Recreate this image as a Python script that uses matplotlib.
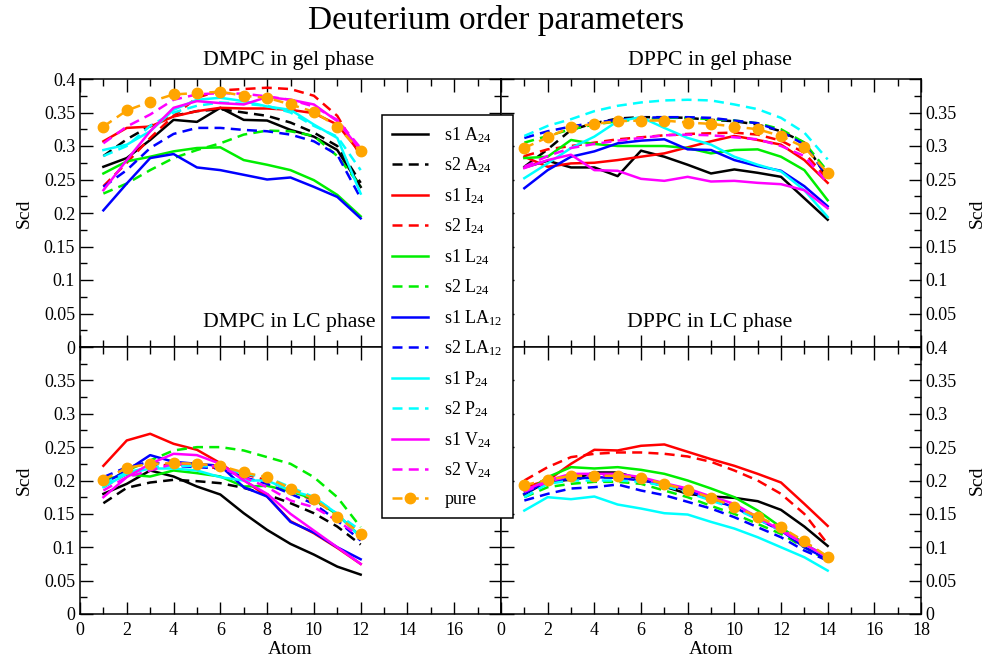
import numpy as np
import matplotlib
matplotlib.use('Agg')
import matplotlib.pyplot as plt
from matplotlib.ticker import MultipleLocator

plt.rcParams['font.family'] = 'Liberation Serif'
plt.rcParams['mathtext.default'] = 'regular'

# series labels / styles
labels = [r's1 A$_{24}$', r's2 A$_{24}$', r's1 I$_{24}$', r's2 I$_{24}$',
          r's1 L$_{24}$', r's2 L$_{24}$', r's1 LA$_{12}$', r's2 LA$_{12}$',
          r's1 P$_{24}$', r's2 P$_{24}$', r's1 V$_{24}$', r's2 V$_{24}$', 'pure']
colors = ['black', 'black', 'red', 'red', '#00ee00', '#00ee00', 'blue', 'blue',
          'cyan', 'cyan', 'magenta', 'magenta', '#ffa500']

atoms_dmpc = np.arange(1, 13)
atoms_dppc = np.arange(1, 15)

# ---- DMPC gel
dmpc_gel_s1_A = [0.269, 0.282, 0.309, 0.339, 0.336, 0.357, 0.339, 0.338, 0.324, 0.314, 0.294, 0.239]
dmpc_gel_s2_A = [0.285, 0.310, 0.330, 0.345, 0.352, 0.355, 0.350, 0.345, 0.335, 0.320, 0.300, 0.245]
dmpc_gel_s1_I = [0.307, 0.327, 0.329, 0.344, 0.352, 0.357, 0.356, 0.356, 0.354, 0.349, 0.332, 0.289]
dmpc_gel_s2_I = [0.240, 0.275, 0.312, 0.345, 0.372, 0.383, 0.385, 0.387, 0.385, 0.375, 0.345, 0.285]
dmpc_gel_s1_L = [0.259, 0.277, 0.284, 0.292, 0.297, 0.298, 0.279, 0.272, 0.264, 0.249, 0.227, 0.195]
dmpc_gel_s2_L = [0.229, 0.244, 0.264, 0.282, 0.294, 0.304, 0.317, 0.323, 0.322, 0.315, 0.285, 0.240]
dmpc_gel_s1_LA = [0.204, 0.244, 0.282, 0.288, 0.268, 0.264, 0.257, 0.250, 0.253, 0.239, 0.224, 0.192]
dmpc_gel_s2_LA = [0.239, 0.264, 0.297, 0.318, 0.327, 0.327, 0.324, 0.322, 0.317, 0.307, 0.287, 0.222]
dmpc_gel_s1_P = [0.294, 0.302, 0.322, 0.354, 0.369, 0.372, 0.367, 0.359, 0.354, 0.332, 0.312, 0.229]
dmpc_gel_s2_P = [0.285, 0.300, 0.330, 0.350, 0.360, 0.365, 0.363, 0.360, 0.350, 0.330, 0.314, 0.264]
dmpc_gel_s1_V = [0.234, 0.279, 0.322, 0.357, 0.367, 0.364, 0.362, 0.373, 0.369, 0.362, 0.337, 0.294]
dmpc_gel_s2_V = [0.304, 0.329, 0.347, 0.369, 0.377, 0.379, 0.378, 0.374, 0.369, 0.359, 0.339, 0.297]
dmpc_gel_pure = [0.329, 0.353, 0.366, 0.377, 0.379, 0.381, 0.375, 0.372, 0.362, 0.351, 0.329, 0.292]

# ---- DPPC gel
dppc_gel_s1_A = [0.268, 0.278, 0.268, 0.268, 0.255, 0.293, 0.284, 0.272, 0.259, 0.265, 0.260, 0.254, 0.222, 0.190]
dppc_gel_s2_A = [0.269, 0.295, 0.324, 0.334, 0.341, 0.343, 0.343, 0.342, 0.339, 0.337, 0.332, 0.322, 0.305, 0.252]
dppc_gel_s1_I = [0.284, 0.269, 0.274, 0.275, 0.279, 0.284, 0.289, 0.298, 0.307, 0.315, 0.309, 0.302, 0.279, 0.245]
dppc_gel_s2_I = [0.285, 0.295, 0.300, 0.305, 0.310, 0.313, 0.316, 0.318, 0.319, 0.320, 0.317, 0.308, 0.290, 0.250]
dppc_gel_s1_L = [0.282, 0.284, 0.309, 0.303, 0.300, 0.300, 0.300, 0.297, 0.289, 0.294, 0.295, 0.284, 0.264, 0.219]
dppc_gel_s2_L = [0.305, 0.315, 0.325, 0.332, 0.337, 0.340, 0.342, 0.342, 0.340, 0.338, 0.334, 0.325, 0.305, 0.262]
dppc_gel_s1_LA = [0.237, 0.264, 0.284, 0.292, 0.304, 0.308, 0.310, 0.295, 0.294, 0.279, 0.270, 0.263, 0.240, 0.210]
dppc_gel_s2_LA = [0.312, 0.322, 0.329, 0.335, 0.339, 0.342, 0.343, 0.343, 0.342, 0.338, 0.334, 0.322, 0.302, 0.254]
dppc_gel_s1_P = [0.252, 0.274, 0.297, 0.314, 0.337, 0.343, 0.327, 0.312, 0.302, 0.284, 0.272, 0.262, 0.234, 0.194]
dppc_gel_s2_P = [0.315, 0.330, 0.340, 0.352, 0.360, 0.365, 0.368, 0.369, 0.368, 0.362, 0.355, 0.342, 0.320, 0.280]
dppc_gel_s1_V = [0.267, 0.279, 0.287, 0.264, 0.263, 0.251, 0.248, 0.254, 0.247, 0.248, 0.245, 0.243, 0.234, 0.207]
dppc_gel_s2_V = [0.269, 0.285, 0.297, 0.303, 0.308, 0.312, 0.316, 0.317, 0.316, 0.313, 0.310, 0.300, 0.285, 0.245]
dppc_gel_pure = [0.297, 0.313, 0.328, 0.333, 0.337, 0.338, 0.338, 0.335, 0.333, 0.329, 0.325, 0.315, 0.298, 0.260]

# ---- DMPC LC
dmpc_lc_s1_A = [0.180, 0.195, 0.215, 0.206, 0.191, 0.179, 0.151, 0.126, 0.105, 0.089, 0.071, 0.059]
dmpc_lc_s2_A = [0.166, 0.189, 0.197, 0.201, 0.199, 0.196, 0.189, 0.179, 0.166, 0.151, 0.131, 0.104]
dmpc_lc_s1_I = [0.222, 0.260, 0.270, 0.255, 0.246, 0.226, 0.201, 0.176, 0.139, 0.121, 0.099, 0.075]
dmpc_lc_s2_I = [0.190, 0.210, 0.220, 0.225, 0.222, 0.218, 0.210, 0.200, 0.185, 0.170, 0.150, 0.120]
dmpc_lc_s1_L = [0.201, 0.209, 0.206, 0.215, 0.211, 0.206, 0.191, 0.192, 0.184, 0.172, 0.149, 0.116]
dmpc_lc_s2_L = [0.195, 0.215, 0.230, 0.245, 0.250, 0.250, 0.245, 0.235, 0.225, 0.205, 0.175, 0.130]
dmpc_lc_s1_LA = [0.195, 0.215, 0.238, 0.228, 0.225, 0.222, 0.190, 0.176, 0.138, 0.122, 0.100, 0.082]
dmpc_lc_s2_LA = [0.205, 0.220, 0.228, 0.222, 0.220, 0.218, 0.205, 0.195, 0.180, 0.165, 0.140, 0.110]
dmpc_lc_s1_P = [0.190, 0.210, 0.218, 0.218, 0.215, 0.205, 0.200, 0.200, 0.185, 0.175, 0.150, 0.115]
dmpc_lc_s2_P = [0.195, 0.212, 0.220, 0.222, 0.222, 0.220, 0.210, 0.205, 0.190, 0.175, 0.150, 0.125]
dmpc_lc_s1_V = [0.175, 0.205, 0.225, 0.240, 0.238, 0.225, 0.200, 0.180, 0.150, 0.125, 0.100, 0.075]
dmpc_lc_s2_V = [0.185, 0.205, 0.215, 0.225, 0.225, 0.220, 0.205, 0.190, 0.170, 0.160, 0.140, 0.115]
dmpc_lc_pure = [0.201, 0.219, 0.225, 0.226, 0.225, 0.222, 0.212, 0.205, 0.188, 0.173, 0.146, 0.120]

# ---- DPPC LC
dppc_lc_s1_A = [0.179, 0.199, 0.201, 0.212, 0.212, 0.202, 0.191, 0.180, 0.176, 0.174, 0.169, 0.156, 0.131, 0.102]
dppc_lc_s2_A = [0.185, 0.198, 0.202, 0.205, 0.205, 0.200, 0.192, 0.182, 0.172, 0.160, 0.145, 0.128, 0.108, 0.085]
dppc_lc_s1_I = [0.190, 0.200, 0.225, 0.246, 0.245, 0.252, 0.254, 0.243, 0.232, 0.222, 0.210, 0.197, 0.165, 0.132]
dppc_lc_s2_I = [0.200, 0.220, 0.235, 0.240, 0.242, 0.242, 0.240, 0.236, 0.228, 0.215, 0.200, 0.180, 0.150, 0.105]
dppc_lc_s1_L = [0.180, 0.205, 0.220, 0.218, 0.220, 0.216, 0.210, 0.200, 0.188, 0.175, 0.155, 0.130, 0.105, 0.085]
dppc_lc_s2_L = [0.175, 0.190, 0.195, 0.198, 0.198, 0.195, 0.185, 0.175, 0.162, 0.150, 0.135, 0.120, 0.100, 0.080]
dppc_lc_s1_LA = [0.180, 0.200, 0.202, 0.205, 0.204, 0.200, 0.195, 0.185, 0.172, 0.160, 0.142, 0.125, 0.100, 0.082]
dppc_lc_s2_LA = [0.170, 0.180, 0.188, 0.190, 0.194, 0.185, 0.178, 0.168, 0.158, 0.145, 0.130, 0.115, 0.095, 0.080]
dppc_lc_s1_P = [0.155, 0.175, 0.172, 0.176, 0.164, 0.158, 0.151, 0.149, 0.138, 0.128, 0.115, 0.100, 0.085, 0.065]
dppc_lc_s2_P = [0.175, 0.195, 0.200, 0.200, 0.200, 0.198, 0.192, 0.182, 0.170, 0.158, 0.142, 0.125, 0.105, 0.085]
dppc_lc_s1_V = [0.185, 0.200, 0.210, 0.210, 0.210, 0.205, 0.196, 0.188, 0.176, 0.165, 0.145, 0.125, 0.105, 0.085]
dppc_lc_s2_V = [0.183, 0.198, 0.207, 0.208, 0.207, 0.203, 0.195, 0.186, 0.174, 0.162, 0.145, 0.128, 0.105, 0.085]
dppc_lc_pure = [0.193, 0.201, 0.207, 0.207, 0.207, 0.204, 0.195, 0.186, 0.174, 0.161, 0.146, 0.130, 0.109, 0.086]

dmpc_gel = [dmpc_gel_s1_A, dmpc_gel_s2_A, dmpc_gel_s1_I, dmpc_gel_s2_I, dmpc_gel_s1_L, dmpc_gel_s2_L,
            dmpc_gel_s1_LA, dmpc_gel_s2_LA, dmpc_gel_s1_P, dmpc_gel_s2_P, dmpc_gel_s1_V, dmpc_gel_s2_V, dmpc_gel_pure]
dppc_gel = [dppc_gel_s1_A, dppc_gel_s2_A, dppc_gel_s1_I, dppc_gel_s2_I, dppc_gel_s1_L, dppc_gel_s2_L,
            dppc_gel_s1_LA, dppc_gel_s2_LA, dppc_gel_s1_P, dppc_gel_s2_P, dppc_gel_s1_V, dppc_gel_s2_V, dppc_gel_pure]
dmpc_lc = [dmpc_lc_s1_A, dmpc_lc_s2_A, dmpc_lc_s1_I, dmpc_lc_s2_I, dmpc_lc_s1_L, dmpc_lc_s2_L,
           dmpc_lc_s1_LA, dmpc_lc_s2_LA, dmpc_lc_s1_P, dmpc_lc_s2_P, dmpc_lc_s1_V, dmpc_lc_s2_V, dmpc_lc_pure]
dppc_lc = [dppc_lc_s1_A, dppc_lc_s2_A, dppc_lc_s1_I, dppc_lc_s2_I, dppc_lc_s1_L, dppc_lc_s2_L,
           dppc_lc_s1_LA, dppc_lc_s2_LA, dppc_lc_s1_P, dppc_lc_s2_P, dppc_lc_s1_V, dppc_lc_s2_V, dppc_lc_pure]

yticks = [0, 0.05, 0.1, 0.15, 0.2, 0.25, 0.3, 0.35, 0.4]
xticks = [0, 2, 4, 6, 8, 10, 12, 14, 16, 18]


def fmt(v):
    return '0' if v == 0 else f'{v:g}'


W, H = 992, 661
fig = plt.figure(figsize=(W / 100, H / 100), dpi=100)


def box(x0, x1, y0, y1):
    return [x0 / W, 1 - y1 / H, (x1 - x0) / W, (y1 - y0) / H]


L, M, R = 80, 501, 921
T, C, B = 79, 347, 614
ax_tl = fig.add_axes(box(L, M, T, C))
ax_tr = fig.add_axes(box(M, R, T, C))
ax_bl = fig.add_axes(box(L, M, C, B))
ax_br = fig.add_axes(box(M, R, C, B))

panels = [(ax_tl, atoms_dmpc, dmpc_gel), (ax_tr, atoms_dppc, dppc_gel),
          (ax_bl, atoms_dmpc, dmpc_lc), (ax_br, atoms_dppc, dppc_lc)]

handles = []
for ax, atoms, series in panels:
    for i, vals in enumerate(series):
        if i == 12:
            ln, = ax.plot(atoms, vals, color=colors[i], lw=1.8, ls=(0, (4, 2.5)),
                          marker='o', ms=7.5, zorder=3)
        elif i % 2 == 0:
            ln, = ax.plot(atoms, vals, color=colors[i], lw=1.8, ls='-')
        else:
            ln, = ax.plot(atoms, vals, color=colors[i], lw=1.8, ls=(0, (4, 2.5)))
        if ax is ax_tl:
            handles.append(ln)
    ax.set_xlim(0, 18)
    ax.set_ylim(0, 0.4)
    ax.set_xticks(xticks)
    ax.set_yticks(yticks)
    ax.xaxis.set_minor_locator(MultipleLocator(1))
    ax.yaxis.set_minor_locator(MultipleLocator(0.025))
    ax.tick_params(which='both', direction='in', top=True, right=True,
                   labelsize=13, width=1)
    ax.tick_params(which='major', length=9)
    ax.tick_params(which='minor', length=5)
    ax.tick_params(axis='x', pad=6)
    for s in ax.spines.values():
        s.set_linewidth(1.1)

# tick labels
ax_tl.set_yticklabels([fmt(v) for v in yticks])
ax_tl.set_xticklabels([])
ax_bl.set_yticklabels([fmt(v) for v in yticks[:-1]] + [''])
ax_bl.set_xticklabels([str(v) for v in xticks[:-1]] + [''])
ax_tr.tick_params(labelleft=False, labelright=True)
ax_tr.set_yticklabels([''] + [fmt(v) for v in yticks[1:-1]] + [''])
ax_tr.set_xticklabels([])
ax_br.tick_params(labelleft=False, labelright=True)
ax_br.set_yticklabels([fmt(v) for v in yticks])
ax_br.set_xticklabels([str(v) for v in xticks])

for ax in (ax_tl, ax_bl):
    ax.set_ylabel('Scd', fontsize=14, labelpad=8)
for ax in (ax_tr, ax_br):
    ax.yaxis.set_label_position('right')
    ax.set_ylabel('Scd', fontsize=14, labelpad=8)
for ax in (ax_bl, ax_br):
    ax.set_xlabel('Atom', fontsize=14, labelpad=1)

fig.text(0.5, 1 - 20 / H, 'Deuterium order parameters', ha='center', va='center', fontsize=24)
fig.text(289 / W, 1 - 60 / H, 'DMPC in gel phase', ha='center', va='center', fontsize=15.7)
fig.text(710 / W, 1 - 60 / H, 'DPPC in gel phase', ha='center', va='center', fontsize=15.7)
fig.text(289 / W, 1 - 322 / H, 'DMPC in LC phase', ha='center', va='center', fontsize=15.7)
fig.text(710 / W, 1 - 322 / H, 'DPPC in LC phase', ha='center', va='center', fontsize=15.7)

leg = fig.legend(handles, labels, loc='upper left', bbox_to_anchor=(382 / W, 1 - 115 / H),
                 fontsize=13, frameon=True, fancybox=False, framealpha=1, edgecolor='black',
                 handlelength=2.0, labelspacing=0.6, borderpad=0.55, handletextpad=0.9,
                 borderaxespad=0)
leg.get_frame().set_linewidth(1.1)

fig.savefig('out.png', dpi=100)
